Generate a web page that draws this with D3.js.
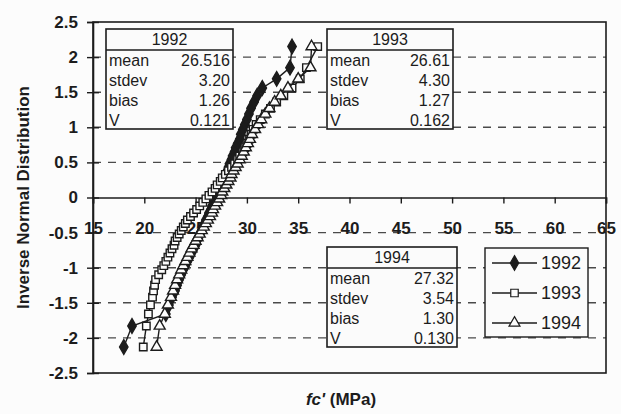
<!DOCTYPE html>
<html>
<head>
<meta charset="utf-8">
<script src="https://cdn.jsdelivr.net/npm/d3@7"></script>
<style>
  body { margin: 0; background: #fcfcfc; }
  svg { display: block; font-family: Arial, "Liberation Sans", sans-serif; }
</style>
</head>
<body>
<script>
// inverse normal scores
const invNorm = [-2.13, -1.83, -1.66, -1.53, -1.42, -1.33, -1.25, -1.17, -1.10, -1.03,
  -0.97, -0.91, -0.85, -0.79, -0.73, -0.68, -0.62, -0.57, -0.52, -0.47,
  -0.42, -0.37, -0.32, -0.27, -0.22, -0.17, -0.12, -0.07, -0.02, 0.03,
  0.08, 0.13, 0.18, 0.23, 0.28, 0.33, 0.38, 0.43, 0.48, 0.54,
  0.59, 0.65, 0.71, 0.77, 0.83, 0.90, 0.97, 1.04, 1.11, 1.19,
  1.27, 1.36, 1.45, 1.56, 1.69, 1.85, 2.15];

// sorted fc' values (MPa)
const fc1992 = [18.0, 18.8, 22.1, 22.4, 22.7, 23.0, 23.2, 23.4, 23.6, 23.8,
  24.0, 24.2, 24.4, 24.6, 24.8, 25.0, 25.1, 25.3, 25.4, 25.6,
  25.7, 25.9, 26.0, 26.2, 26.3, 26.5, 26.6, 26.8, 26.9, 27.0,
  27.2, 27.3, 27.5, 27.6, 27.8, 27.9, 28.1, 28.2, 28.3, 28.5,
  28.6, 28.8, 28.9, 29.1, 29.3, 29.4, 29.6, 29.8, 30.0, 30.2,
  30.4, 30.7, 31.0, 31.5, 32.9, 34.2, 34.4];
const fc1993 = [19.9, 20.2, 20.4, 20.6, 20.8, 20.9, 21.0, 21.1, 21.4, 21.7,
  21.9, 22.1, 22.3, 22.5, 22.7, 22.9, 23.0, 23.2, 23.4, 23.6,
  23.8, 24.0, 24.2, 24.5, 24.8, 25.1, 25.4, 25.7, 26.0, 26.3,
  26.6, 26.9, 27.1, 27.4, 27.6, 27.9, 28.2, 28.5, 28.8, 29.1,
  29.3, 29.6, 29.8, 30.0, 30.2, 30.4, 30.6, 30.9, 31.3, 31.8,
  32.3, 32.9, 33.6, 34.4, 35.2, 35.8, 36.9];
const fc1994 = [21.2, 21.5, 22.0, 22.3, 22.6, 22.8, 23.0, 23.2, 23.4, 23.6,
  23.8, 24.0, 24.2, 24.4, 24.6, 24.8, 25.0, 25.2, 25.4, 25.6,
  25.8, 26.0, 26.2, 26.4, 26.6, 26.7, 26.9, 27.1, 27.3, 27.5,
  27.6, 27.8, 28.0, 28.2, 28.4, 28.5, 28.7, 28.9, 29.1, 29.3,
  29.5, 29.7, 29.9, 30.1, 30.3, 30.5, 30.8, 31.1, 31.4, 31.8,
  32.2, 32.7, 33.3, 34.0, 35.0, 36.2, 36.3];

const years = ["1992", "1993", "1994"];
const statLabels = ["mean", "stdev", "bias", "V"];
const stats1992 = ["26.516", "3.20", "1.26", "0.121"];
const stats1993 = ["26.61", "4.30", "1.27", "0.162"];
const stats1994 = ["27.32", "3.54", "1.30", "0.130"];

const xTicks = [15, 20, 25, 30, 35, 40, 45, 50, 55, 60, 65];
const yTicks = [-2.5, -2, -1.5, -1, -0.5, 0, 0.5, 1, 1.5, 2, 2.5];

const width = 621, height = 414;
const ink = "#1c1c1c";

const svg = d3.select("body").append("svg")
  .attr("width", width)
  .attr("height", height);

const x = d3.scaleLinear().domain([15, 65]).range([93, 606]);
const y = d3.scaleLinear().domain([-2.5, 2.5]).range([373, 22]);

// dashed grid
svg.append("g")
  .selectAll("line")
  .data(yTicks.filter((d) => d !== 0 && Math.abs(d) !== 2.5))
  .join("line")
  .attr("x1", x(15)).attr("x2", x(65))
  .attr("y1", (d) => y(d)).attr("y2", (d) => y(d))
  .attr("stroke", "#4a4a4a")
  .attr("stroke-width", 1.4)
  .attr("stroke-dasharray", "8,7");

// plot frame
svg.append("rect")
  .attr("x", x(15)).attr("y", y(2.5))
  .attr("width", x(65) - x(15)).attr("height", y(-2.5) - y(2.5))
  .attr("fill", "none")
  .attr("stroke", ink)
  .attr("stroke-width", 1.6);

// y axis, ticks crossing the line
const yAxis = svg.append("g")
  .attr("transform", `translate(${x(15)},0)`)
  .call(d3.axisLeft(y).tickValues(yTicks).tickSize(6).tickPadding(9)
    .tickFormat((d) => String(d)));
yAxis.select(".domain").attr("stroke", ink).attr("stroke-width", 1.6);
yAxis.selectAll(".tick line").attr("x1", 6).attr("stroke", ink).attr("stroke-width", 1.4);
yAxis.selectAll(".tick text")
  .attr("fill", ink)
  .attr("font-size", 17)
  .attr("font-weight", "bold")
  .attr("font-family", "Arial, 'Liberation Sans', sans-serif");

// x axis on y = 0, labels pushed down
const xAxis = svg.append("g")
  .attr("transform", `translate(0,${y(0)})`)
  .call(d3.axisBottom(x).tickValues(xTicks).tickSize(6).tickPadding(18)
    .tickFormat((d) => String(d)));
xAxis.select(".domain").attr("stroke", ink).attr("stroke-width", 1.6);
xAxis.selectAll(".tick line").attr("stroke", ink).attr("stroke-width", 1.4);
xAxis.selectAll(".tick text")
  .attr("fill", ink)
  .attr("font-size", 17)
  .attr("font-weight", "bold")
  .attr("font-family", "Arial, 'Liberation Sans', sans-serif");

// axis titles
svg.append("text")
  .attr("transform", `translate(29,${y(0)}) rotate(-90)`)
  .attr("text-anchor", "middle")
  .attr("font-size", 17)
  .attr("font-weight", "bold")
  .attr("fill", ink)
  .text("Inverse Normal Distribution");

const xTitle = svg.append("text")
  .attr("x", 341).attr("y", 405)
  .attr("text-anchor", "middle")
  .attr("font-size", 17)
  .attr("font-weight", "bold")
  .attr("fill", ink);
xTitle.append("tspan").attr("font-style", "italic").text("fc'");
xTitle.append("tspan").text(" (MPa)");

// series
const symbols = {
  "1992": { type: d3.symbolDiamond, size: 62, fill: ink },
  "1993": { type: d3.symbolSquare, size: 56, fill: "#fcfcfc" },
  "1994": { type: d3.symbolTriangle, size: 52, fill: "#fcfcfc" },
};
const seriesData = [
  { year: "1992", xs: fc1992 },
  { year: "1993", xs: fc1993 },
  { year: "1994", xs: fc1994 },
];

const line = d3.line().x((d) => x(d[0])).y((d) => y(d[1]));

seriesData.forEach((s) => {
  const pts = s.xs.map((v, i) => [v, invNorm[i]]);
  const g = svg.append("g");
  g.append("path")
    .attr("d", line(pts))
    .attr("fill", "none")
    .attr("stroke", ink)
    .attr("stroke-width", 1.4);
  const sym = symbols[s.year];
  g.selectAll("path.pt")
    .data(pts)
    .join("path")
    .attr("class", "pt")
    .attr("transform", (d) => `translate(${x(d[0])},${y(d[1])})`)
    .attr("d", d3.symbol(sym.type, sym.size))
    .attr("fill", sym.fill)
    .attr("stroke", ink)
    .attr("stroke-width", 1.4);
});

// stat boxes
function statBox(left, top, w, title, values) {
  const g = svg.append("g").attr("transform", `translate(${left},${top})`);
  g.append("rect")
    .attr("width", w).attr("height", 100)
    .attr("fill", "#fbfbfb")
    .attr("stroke", ink)
    .attr("stroke-width", 1.6);
  g.append("line")
    .attr("x1", 0).attr("x2", w)
    .attr("y1", 21).attr("y2", 21)
    .attr("stroke", ink)
    .attr("stroke-width", 1.6);
  g.append("text")
    .attr("x", w / 2).attr("y", 16)
    .attr("text-anchor", "middle")
    .attr("font-size", 16)
    .attr("fill", ink)
    .text(title);
  g.selectAll("text.lab")
    .data(statLabels)
    .join("text")
    .attr("class", "lab")
    .attr("x", 3)
    .attr("y", (d, i) => 37 + i * 20)
    .attr("font-size", 16)
    .attr("fill", ink)
    .text((d) => d);
  g.selectAll("text.val")
    .data(values)
    .join("text")
    .attr("class", "val")
    .attr("x", w - 3)
    .attr("y", (d, i) => 37 + i * 20)
    .attr("text-anchor", "end")
    .attr("font-size", 16)
    .attr("fill", ink)
    .text((d) => d);
}

statBox(106, 29, 127, years[0], stats1992);
statBox(327, 29, 126, years[1], stats1993);
statBox(327, 247, 130, years[2], stats1994);

// legend
const legend = svg.append("g").attr("transform", "translate(485,248)");
legend.append("rect")
  .attr("width", 103).attr("height", 89)
  .attr("fill", "#fbfbfb")
  .attr("stroke", ink)
  .attr("stroke-width", 1.4);
const item = legend.selectAll("g")
  .data(years)
  .join("g")
  .attr("transform", (d, i) => `translate(0,${15 + i * 30})`);
item.append("line")
  .attr("x1", 7).attr("x2", 52)
  .attr("stroke", ink)
  .attr("stroke-width", 1.4);
item.append("path")
  .attr("transform", "translate(29.5,0)")
  .attr("d", (d) => d3.symbol(symbols[d].type, symbols[d].size)())
  .attr("fill", (d) => symbols[d].fill)
  .attr("stroke", ink)
  .attr("stroke-width", 1.2);
item.append("text")
  .attr("x", 56)
  .attr("dy", "0.36em")
  .attr("font-size", 18)
  .attr("fill", ink)
  .text((d) => d);
</script>
</body>
</html>
